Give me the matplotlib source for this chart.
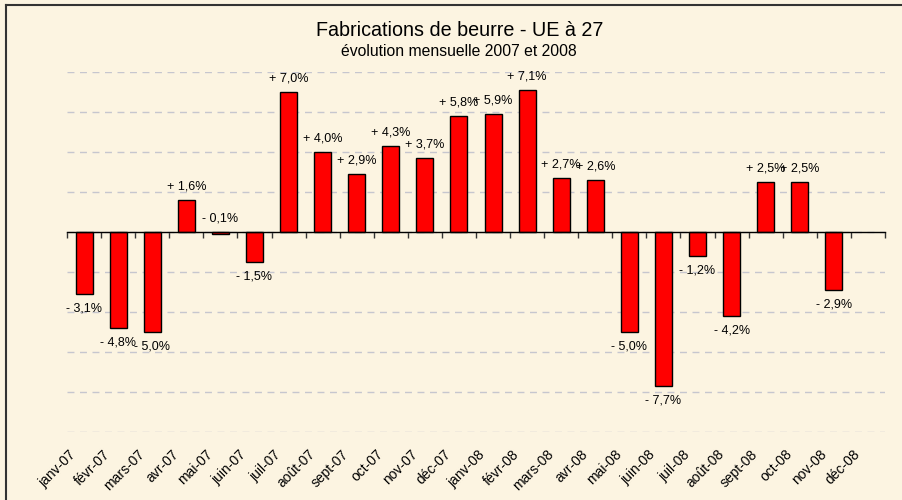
import numpy as np
import matplotlib
matplotlib.use("Agg")
import matplotlib.pyplot as plt
from matplotlib.lines import Line2D
from matplotlib.transforms import ScaledTranslation

plt.rcParams['font.family'] = ['Liberation Sans', 'DejaVu Sans']

# monthly butter production change, EU-27 (%)
months = ['janv-07', 'févr-07', 'mars-07', 'avr-07', 'mai-07', 'juin-07',
          'juil-07', 'août-07', 'sept-07', 'oct-07', 'nov-07', 'déc-07',
          'janv-08', 'févr-08', 'mars-08', 'avr-08', 'mai-08', 'juin-08',
          'juil-08', 'août-08', 'sept-08', 'oct-08', 'nov-08', 'déc-08']
values = [-3.1, -4.8, -5.0, 1.6, -0.1, -1.5, 7.0, 4.0, 2.9, 4.3, 3.7, 5.8,
          5.9, 7.1, 2.7, 2.6, -5.0, -7.7, -1.2, -4.2, 2.5, 2.5, -2.9, np.nan]

bg = '#FCF4E1'

fig = plt.figure(figsize=(9.02, 5.0), dpi=100)
fig.patch.set_facecolor(bg)
ax = fig.add_axes([67 / 902, 1 - 432 / 500, 818 / 902, 360 / 500])
ax.set_facecolor('none')

x = np.arange(len(months))
ax.bar(x, values, width=0.5, color='#FF0000', edgecolor='black', linewidth=1, zorder=2)

ax.set_xlim(-0.5, len(months) - 0.5)
ax.set_ylim(-10, 8)
ax.set_yticks(np.arange(-10, 9, 2))
ax.yaxis.grid(True, linestyle=(0, (5, 4)), color='#C6C6CE', linewidth=1)
ax.set_axisbelow(True)
ax.tick_params(axis='y', length=0, labelleft=False)

for s in ['top', 'right', 'left']:
    ax.spines[s].set_visible(False)
ax.spines['bottom'].set_position(('data', 0))
ax.spines['bottom'].set_linewidth(1)
ax.spines['bottom'].set_zorder(3)
ax.set_xticks(np.arange(-0.5, len(months), 1))
ax.tick_params(axis='x', direction='out', length=4, width=1, color='#333333', labelbottom=False)

# month labels along the bottom of the plot area
sec = ax.secondary_xaxis(0.0)
sec.set_xticks(x, labels=months, rotation=45, ha='right', fontsize=10)
sec.tick_params(length=0, pad=11)
sec.spines['bottom'].set_visible(False)
for lab in sec.get_xticklabels():
    lab.set_transform(lab.get_transform() + ScaledTranslation(-0.05, 0, fig.dpi_scale_trans))

# value labels
for xi, v in zip(x, values):
    if np.isnan(v):
        continue
    txt = ('+ ' if v > 0 else '- ') + f"{abs(v):.1f}".replace('.', ',') + '%'
    if v > 0 or abs(v) < 0.5:
        ax.annotate(txt, (xi, max(v, 0)), xytext=(0, 9.5), textcoords='offset points',
                    ha='center', va='center', fontsize=9)
    else:
        ax.annotate(txt, (xi, v), xytext=(0, -10.5), textcoords='offset points',
                    ha='center', va='center', fontsize=9)

fig.text(460 / 902, 1 - 30 / 500, 'Fabrications de beurre - UE à 27',
         ha='center', va='center', fontsize=14.2)
fig.text(459 / 902, 1 - 52 / 500, 'évolution mensuelle 2007 et 2008',
         ha='center', va='center', fontsize=11.3)

# frame lines on top and left
fig.add_artist(Line2D([6 / 902, 6 / 902], [0, 1 - 5 / 500], color='#333333', lw=1.5))
fig.add_artist(Line2D([6 / 902, 1], [1 - 5 / 500, 1 - 5 / 500], color='#333333', lw=1.5))

fig.savefig('out.png', dpi=100, facecolor=fig.get_facecolor())
